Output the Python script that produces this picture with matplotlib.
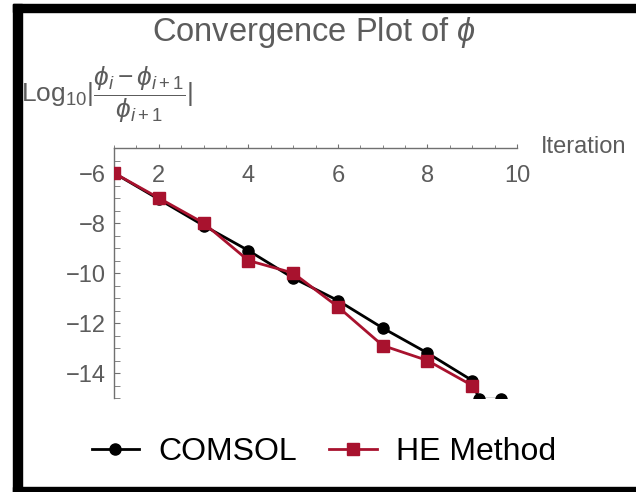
import matplotlib
matplotlib.use("Agg")
import matplotlib.pyplot as plt
from matplotlib.lines import Line2D
from matplotlib.patches import Rectangle
from matplotlib.ticker import MultipleLocator

plt.rcParams['font.family'] = ['Liberation Sans', 'DejaVu Sans']
plt.rcParams['mathtext.fontset'] = 'custom'
plt.rcParams['mathtext.rm'] = 'Liberation Sans'
plt.rcParams['mathtext.it'] = 'Liberation Sans:italic'

# data
comsol_iter = [1, 2, 3, 4, 5, 6, 7, 8, 9, 9.15, 9.65]
comsol_err = [-6.0, -7.05, -8.1, -9.1, -10.2, -11.1, -12.2, -13.2, -14.3, -15.05, -15.05]
he_iter = [1, 2, 3, 4, 5, 6, 7, 8, 9]
he_err = [-6.0, -7.0, -8.0, -9.5, -10.0, -11.35, -12.9, -13.5, -14.5]
xticks = [2, 4, 6, 8, 10]
yticks = [-6, -8, -10, -12, -14]

W, H = 636, 492
gray = '#5c5c5c'
red = '#A8122E'

fig = plt.figure(figsize=(W / 100, H / 100), dpi=100)
ax = fig.add_axes([114 / W, 1 - 398 / H, 403 / W, 250 / H])

ax.plot(comsol_iter, comsol_err, color='black', lw=2, marker='o', ms=8, zorder=3)
ax.plot(he_iter, he_err, color=red, lw=2, marker='s', ms=8, zorder=4)

ax.set_xlim(1, 10)
ax.set_ylim(-15, -5)

for s in ['right', 'bottom']:
    ax.spines[s].set_visible(False)
for s in ['top', 'left']:
    ax.spines[s].set_color('#707070')
    ax.spines[s].set_linewidth(1.0)

ax.set_xticks(xticks)
ax.xaxis.set_minor_locator(MultipleLocator(0.5))
ax.tick_params(axis='x', which='both', top=True, bottom=False, labeltop=True,
               labelbottom=False, direction='out', colors='#707070', labelcolor=gray)
ax.tick_params(axis='x', which='major', length=3, labelsize=17, pad=-31)
ax.tick_params(axis='x', which='minor', length=2)

ax.set_yticks(yticks)
ax.yaxis.set_minor_locator(MultipleLocator(0.5))
ax.tick_params(axis='y', which='both', left=True, direction='in', colors='#707070',
               labelcolor=gray)
ax.tick_params(axis='y', which='major', length=4.5, labelsize=17, pad=6)
ax.tick_params(axis='y', which='minor', length=4)

fig.text(314 / W, 1 - 32 / H, r'Convergence Plot of $\phi$', ha='center', va='center',
         fontsize=23.5, color=gray)
fig.text(21 / W, 1 - 95 / H, r'$\mathrm{Log}_{10}|\dfrac{\phi_i-\phi_{i+1}}{\phi_{i+1}}|$',
         ha='left', va='center', fontsize=19, color=gray)
fig.text(541 / W, 1 - 147 / H, 'Iteration', ha='left', va='center', fontsize=17, color=gray)

handles = [
    Line2D([], [], color='black', lw=2, marker='o', ms=8),
    Line2D([], [], color=red, lw=2, marker='s', ms=8),
]
fig.legend(handles, ['COMSOL', 'HE Method'], loc='center', bbox_to_anchor=(324 / W, 1 - 452 / H),
           ncol=2, frameon=False, fontsize=23, handlelength=1.5, columnspacing=1.0,
           handletextpad=0.6)

# black frame around the figure
for x0, y0, w, h in [(13, 0, 9, 488), (13, 480, 623, 8), (13, 0, 623, 5)]:
    fig.patches.append(Rectangle((x0 / W, y0 / H), w / W, h / H, color='black',
                                 transform=fig.transFigure, figure=fig))

fig.savefig('out.png', dpi=100)
